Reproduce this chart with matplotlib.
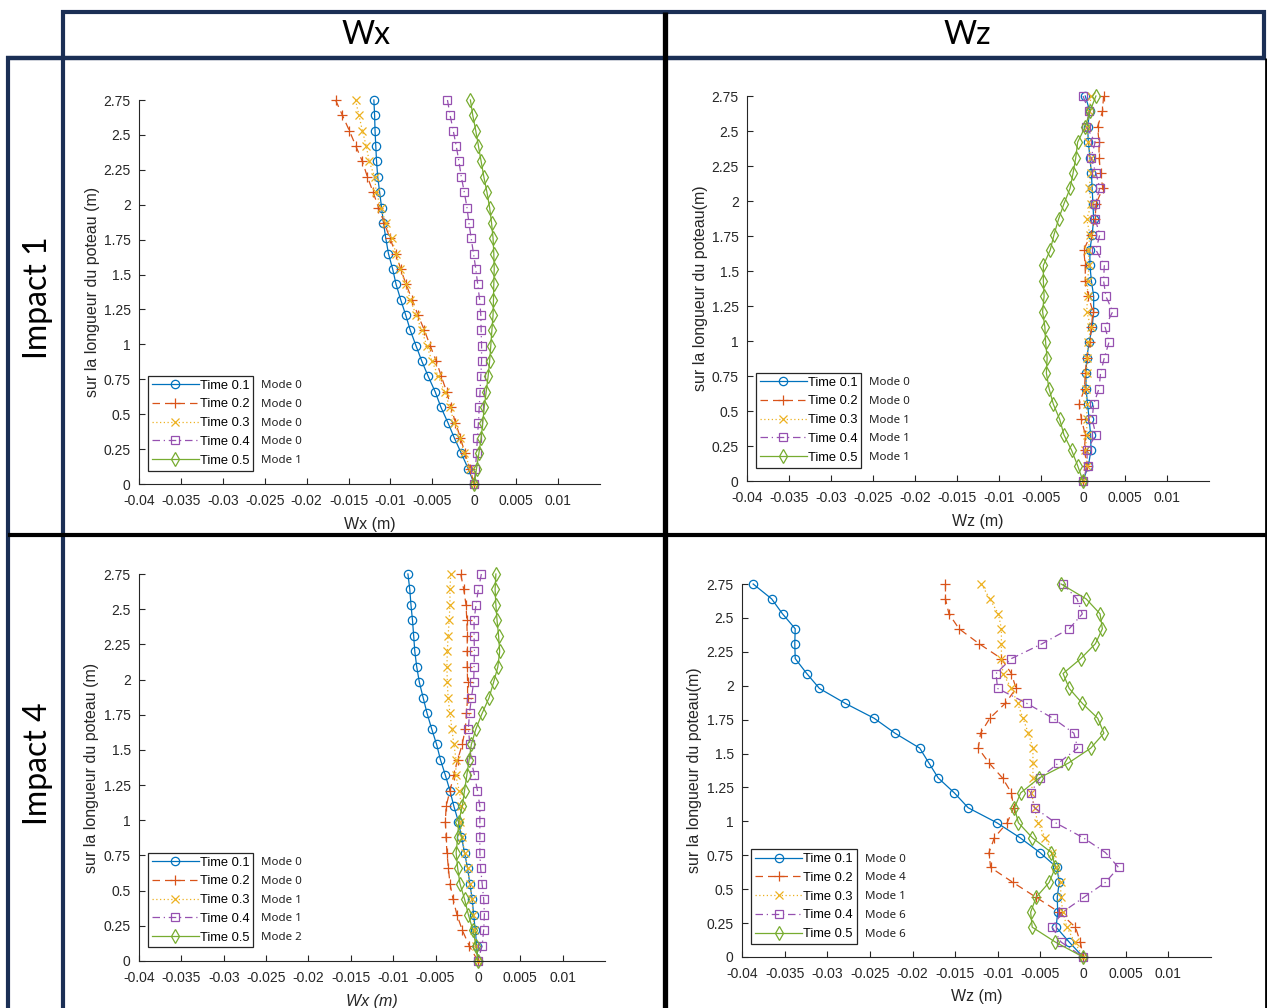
import matplotlib
matplotlib.use('Agg')
import matplotlib.pyplot as plt
from matplotlib.lines import Line2D

# hauteurs le long du poteau (de haut en bas)
heights = [2.75, 2.64, 2.53, 2.42, 2.31, 2.20, 2.09, 1.98, 1.87, 1.76, 1.65, 1.54, 1.43,
           1.32, 1.21, 1.10, 0.99, 0.88, 0.77, 0.66, 0.55, 0.44, 0.33, 0.22, 0.11, 0.0]

times = ['Time 0.1', 'Time 0.2', 'Time 0.3', 'Time 0.4', 'Time 0.5']

# Impact 1 - Wx
wx_i1_t1 = [-0.01198, -0.01189, -0.01184, -0.01175, -0.01166, -0.01152, -0.01129, -0.01106, -0.01083,
            -0.01056, -0.01024, -0.00974, -0.00933, -0.00878, -0.00818, -0.00763, -0.00695, -0.00626,
            -0.00549, -0.00466, -0.00398, -0.00315, -0.00238, -0.00155, -0.00073, 0.0]
wx_i1_t2 = [-0.01655, -0.01573, -0.01490, -0.01413, -0.01335, -0.01275, -0.01207, -0.01143, -0.01074,
            -0.01006, -0.00937, -0.00878, -0.00814, -0.00741, -0.00672, -0.00594, -0.00526, -0.00453,
            -0.00393, -0.00329, -0.00279, -0.00224, -0.00165, -0.00110, -0.00055, 0.0]
wx_i1_t3 = [-0.01417, -0.01376, -0.01335, -0.01289, -0.01253, -0.01189, -0.01170, -0.01115, -0.01056,
            -0.00987, -0.00933, -0.00882, -0.00818, -0.00763, -0.00695, -0.00626, -0.00567, -0.00503,
            -0.00430, -0.00352, -0.00293, -0.00238, -0.00169, -0.00119, -0.00046, 0.0]
wx_i1_t4 = [-0.00320, -0.00288, -0.00251, -0.00215, -0.00183, -0.00155, -0.00119, -0.00087, -0.00064,
            -0.00037, -0.00009, 0.00018, 0.00041, 0.00064, 0.00078, 0.00082, 0.00087, 0.00087,
            0.00078, 0.00069, 0.00059, 0.00050, 0.00037, 0.00027, 0.00014, 0.0]
wx_i1_t5 = [-0.00046, -0.00018, 0.00018, 0.00050, 0.00082, 0.00114, 0.00151, 0.00183, 0.00206,
            0.00224, 0.00233, 0.00238, 0.00233, 0.00229, 0.00224, 0.00210, 0.00197, 0.00183,
            0.00165, 0.00142, 0.00119, 0.00101, 0.00082, 0.00055, 0.00027, 0.0]
modes_wx_i1 = ['Mode 0', 'Mode 0', 'Mode 0', 'Mode 0', 'Mode 1']

# Impact 1 - Wz
wz_i1_t1 = [0.00027, 0.00082, 0.00054, 0.00064, 0.00082, 0.00100, 0.00109, 0.00118, 0.00127,
            0.00109, 0.00082, 0.00082, 0.00100, 0.00127, 0.00127, 0.00109, 0.00073, 0.00045,
            0.00036, 0.00036, 0.00054, 0.00073, 0.00091, 0.00095, 0.00064, 0.0]
wz_i1_t2 = [0.00245, 0.00232, 0.00173, 0.00191, 0.00191, 0.00209, 0.00236, 0.00154, 0.00145,
            0.00091, 0.00009, 0.00027, 0.00027, 0.00064, 0.00118, 0.00100, 0.00082, 0.00045,
            0.00027, 0.00018, -0.00045, -0.00018, 0.00027, 0.00018, 0.00045, 0.0]
wz_i1_t3 = [0.00095, 0.00073, 0.00050, 0.00064, 0.00091, 0.00095, 0.00073, 0.00100, 0.00045,
            0.00082, 0.00064, 0.00073, 0.00054, 0.00054, 0.00045, 0.00091, 0.00064, 0.00045,
            0.00045, 0.00036, 0.00045, 0.00045, 0.00045, 0.00027, 0.00050, 0.0]
wz_i1_t4 = [0.00000, 0.00073, 0.00041, 0.00145, 0.00095, 0.00154, 0.00200, 0.00145, 0.00145,
            0.00200, 0.00154, 0.00254, 0.00245, 0.00272, 0.00354, 0.00263, 0.00309, 0.00254,
            0.00209, 0.00191, 0.00127, 0.00109, 0.00154, 0.00045, 0.00054, 0.0]
wz_i1_t5 = [0.00154, 0.00082, 0.00027, -0.00064, -0.00086, -0.00118, -0.00154, -0.00227, -0.00291,
            -0.00345, -0.00390, -0.00472, -0.00472, -0.00463, -0.00481, -0.00454, -0.00445, -0.00427,
            -0.00436, -0.00404, -0.00354, -0.00277, -0.00227, -0.00136, -0.00064, 0.0]
modes_wz_i1 = ['Mode 0', 'Mode 0', 'Mode 1', 'Mode 1', 'Mode 1']

# Impact 4 - Wx
wx_i4_t1 = [-0.00826, -0.00804, -0.00790, -0.00772, -0.00758, -0.00745, -0.00722, -0.00691, -0.00646,
            -0.00600, -0.00546, -0.00488, -0.00442, -0.00384, -0.00330, -0.00284, -0.00230, -0.00194,
            -0.00158, -0.00122, -0.00095, -0.00068, -0.00050, -0.00032, -0.00014, 0.0]
wx_i4_t2 = [-0.00203, -0.00167, -0.00140, -0.00131, -0.00126, -0.00126, -0.00126, -0.00122, -0.00122,
            -0.00135, -0.00149, -0.00185, -0.00239, -0.00284, -0.00330, -0.00375, -0.00384, -0.00375,
            -0.00366, -0.00348, -0.00330, -0.00293, -0.00248, -0.00185, -0.00104, 0.0]
wx_i4_t3 = [-0.00321, -0.00330, -0.00330, -0.00339, -0.00352, -0.00361, -0.00366, -0.00361, -0.00352,
            -0.00330, -0.00307, -0.00284, -0.00257, -0.00262, -0.00221, -0.00194, -0.00212, -0.00185,
            -0.00158, -0.00122, -0.00095, -0.00068, -0.00059, -0.00041, -0.00023, 0.0]
wx_i4_t4 = [0.00041, 0.00005, -0.00023, -0.00045, -0.00045, -0.00041, -0.00045, -0.00050, -0.00077,
            -0.00099, -0.00113, -0.00095, -0.00081, -0.00041, -0.00005, 0.00023, 0.00023, 0.00023,
            0.00023, 0.00032, 0.00050, 0.00068, 0.00077, 0.00068, 0.00050, 0.0]
wx_i4_t5 = [0.00212, 0.00203, 0.00212, 0.00226, 0.00244, 0.00257, 0.00235, 0.00185, 0.00131,
            0.00050, -0.00023, -0.00077, -0.00104, -0.00131, -0.00158, -0.00185, -0.00226, -0.00239,
            -0.00257, -0.00239, -0.00212, -0.00158, -0.00113, -0.00059, -0.00023, 0.0]
modes_wx_i4 = ['Mode 0', 'Mode 0', 'Mode 1', 'Mode 1', 'Mode 2']

# Impact 4 - Wz
wz_i4_t1 = [-0.03869, -0.03652, -0.03525, -0.03376, -0.03381, -0.03376, -0.03241, -0.03092, -0.02789,
            -0.02450, -0.02206, -0.01916, -0.01808, -0.01699, -0.01510, -0.01347, -0.01012, -0.00741,
            -0.00506, -0.00307, -0.00280, -0.00303, -0.00298, -0.00316, -0.00163, 0.0]
wz_i4_t2 = [-0.01614, -0.01614, -0.01573, -0.01455, -0.01220, -0.00958, -0.00841, -0.00786, -0.00913,
            -0.01094, -0.01202, -0.01229, -0.01103, -0.00945, -0.00841, -0.00814, -0.00890, -0.01040,
            -0.01103, -0.01085, -0.00823, -0.00551, -0.00280, -0.00090, -0.00032, 0.0]
wz_i4_t3 = [-0.01193, -0.01094, -0.00994, -0.00958, -0.00958, -0.00958, -0.00940, -0.00841, -0.00768,
            -0.00705, -0.00642, -0.00588, -0.00588, -0.00588, -0.00606, -0.00569, -0.00533, -0.00443,
            -0.00362, -0.00316, -0.00262, -0.00262, -0.00235, -0.00190, -0.00099, 0.0]
wz_i4_t4 = [-0.00235, -0.00072, -0.00009, -0.00163, -0.00479, -0.00841, -0.01021, -0.01003, -0.00660,
            -0.00353, -0.00108, -0.00063, -0.00289, -0.00506, -0.00615, -0.00569, -0.00325, 0.00000,
            0.00262, 0.00416, 0.00262, 0.00009, -0.00244, -0.00362, -0.00258, 0.0]
wz_i4_t5 = [-0.00258, 0.00036, 0.00199, 0.00226, 0.00145, -0.00027, -0.00235, -0.00163, -0.00009,
            0.00172, 0.00244, 0.00090, -0.00172, -0.00515, -0.00732, -0.00805, -0.00759, -0.00597,
            -0.00371, -0.00325, -0.00398, -0.00551, -0.00615, -0.00597, -0.00325, 0.0]
modes_wz_i4 = ['Mode 0', 'Mode 4', 'Mode 1', 'Mode 6', 'Mode 6']

xticks = [-0.04, -0.035, -0.03, -0.025, -0.02, -0.015, -0.01, -0.005, 0, 0.005, 0.01]
xticklabels = ['-0.04', '-0.035', '-0.03', '-0.025', '-0.02', '-0.015', '-0.01', '-0.005', '0', '0.005', '0.01']
yticks = [0, 0.25, 0.5, 0.75, 1, 1.25, 1.5, 1.75, 2, 2.25, 2.5, 2.75]
yticklabels = ['0', '0.25', '0.5', '0.75', '1', '1.25', '1.5', '1.75', '2', '2.25', '2.5', '2.75']

colors = ['#0072BD', '#D95319', '#EDB120', '#9650B0', '#77AC30']
linestyles = ['-', (0, (6, 4)), (0, (1, 2)), (0, (6, 3, 1, 3)), '-']
markers = ['o', '+', 'x', 's', 'd']
msizes = [6, 7, 5.5, 5.5, 7]

W, H = 1267, 1008
plt.rcParams['font.family'] = ['Liberation Sans', 'DejaVu Sans']
plt.rcParams['axes.unicode_minus'] = False
fig = plt.figure(figsize=(W / 100, H / 100), dpi=100)

axcol = '#262626'

# positions des axes en pixels : gauche, haut, droite, bas
panels = [
    ([wx_i1_t1, wx_i1_t2, wx_i1_t3, wx_i1_t4, wx_i1_t5], modes_wx_i1, (139, 100, 600, 484),
     'Wx (m)', 'sur la longueur du poteau (m)', 'normal'),
    ([wz_i1_t1, wz_i1_t2, wz_i1_t3, wz_i1_t4, wz_i1_t5], modes_wz_i1, (747, 96, 1209, 481),
     'Wz (m)', 'sur la longueur du poteau(m)', 'normal'),
    ([wx_i4_t1, wx_i4_t2, wx_i4_t3, wx_i4_t4, wx_i4_t5], modes_wx_i4, (139, 574, 605, 961),
     'Wx (m)', 'sur la longueur du poteau (m)', 'italic'),
    ([wz_i4_t1, wz_i4_t2, wz_i4_t3, wz_i4_t4, wz_i4_t5], modes_wz_i4, (742, 584, 1211, 957),
     'Wz (m)', 'sur la longueur du poteau(m)', 'normal'),
]

legends = []
for series, modes, (l, t, r, b), xlab, ylab, xstyle in panels:
    ax = fig.add_axes([l / W, 1 - b / H, (r - l) / W, (b - t) / H])
    for k in range(5):
        ax.plot(series[k], heights, color=colors[k], linestyle=linestyles[k], lw=0.9,
                marker=markers[k], ms=msizes[k], mfc='none', mec=colors[k], mew=0.9,
                label=times[k], clip_on=False)
    ax.set_xlim(-0.04, 0.015)
    ax.set_ylim(0, 2.75)
    ax.set_xticks(xticks)
    ax.set_xticklabels(xticklabels)
    ax.set_yticks(yticks)
    ax.set_yticklabels(yticklabels)
    for s in ['top', 'right']:
        ax.spines[s].set_visible(False)
    for s in ['left', 'bottom']:
        ax.spines[s].set_color(axcol)
        ax.spines[s].set_linewidth(0.8)
    ax.tick_params(direction='in', length=4, width=0.8, color=axcol, labelcolor=axcol,
                   labelsize=10)
    ax.tick_params(axis='x', pad=7)
    ax.tick_params(axis='y', pad=6)
    ax.set_xlabel(xlab, fontsize=11.5, color=axcol, style=xstyle)
    ax.set_ylabel(ylab, fontsize=11.5, color=axcol)
    ax.xaxis.set_label_coords(0.5, -0.085)
    ax.yaxis.set_label_coords(-0.085, 0.5)
    leg = ax.legend(loc='lower left', bbox_to_anchor=(0.02, 0.035), borderaxespad=0,
                    fontsize=9.3, handlelength=3.6, handletextpad=0.1, labelspacing=0.52,
                    borderpad=0.3, fancybox=False, framealpha=1, edgecolor=axcol)
    leg.get_frame().set_linewidth(0.9)
    legends.append((leg, modes))

# libellés "Mode" à droite de chaque légende
fig.canvas.draw()
for leg, modes in legends:
    box = leg.get_window_extent()
    for txt, m in zip(leg.get_texts(), modes):
        tb = txt.get_window_extent()
        fig.text((box.x1 + 8) / W, (tb.y0 + tb.y1) / 2 / H, m, fontsize=8.3,
                 family='Noto Sans', color='#222222', va='center', ha='left')

# cadre du tableau
navy = '#1B2F55'


def hline(y, x0, x1, color, lw):
    fig.add_artist(Line2D([x0 / W, x1 / W], [1 - y / H, 1 - y / H], color=color, lw=lw,
                          solid_capstyle='butt'))


def vline(x, y0, y1, color, lw):
    fig.add_artist(Line2D([x / W, x / W], [1 - y0 / H, 1 - y1 / H], color=color, lw=lw,
                          solid_capstyle='butt'))


hline(11.5, 61, 1266, navy, 3)
hline(57.5, 6, 1266, navy, 3.2)
vline(8, 56, 1008, navy, 3)
vline(63, 10, 1008, navy, 3)
vline(1264, 10, 58, navy, 3)
vline(1265.5, 58, 1008, 'black', 2)
vline(664.5, 12, 1008, 'black', 3.8)
hline(535, 8, 1267, 'black', 3)

hfont = dict(fontsize=23, family=['Lato', 'DejaVu Sans'], color='black', ha='center', va='center')
fig.text(366 / W, 1 - 35 / H, 'Wx', **hfont)
fig.text(967 / W, 1 - 35 / H, 'Wz', **hfont)
fig.text(38 / W, 1 - 298 / H, 'Impact 1', rotation=90, **hfont)
fig.text(38 / W, 1 - 764 / H, 'Impact 4', rotation=90, **hfont)

fig.savefig('out.png', dpi=100)
